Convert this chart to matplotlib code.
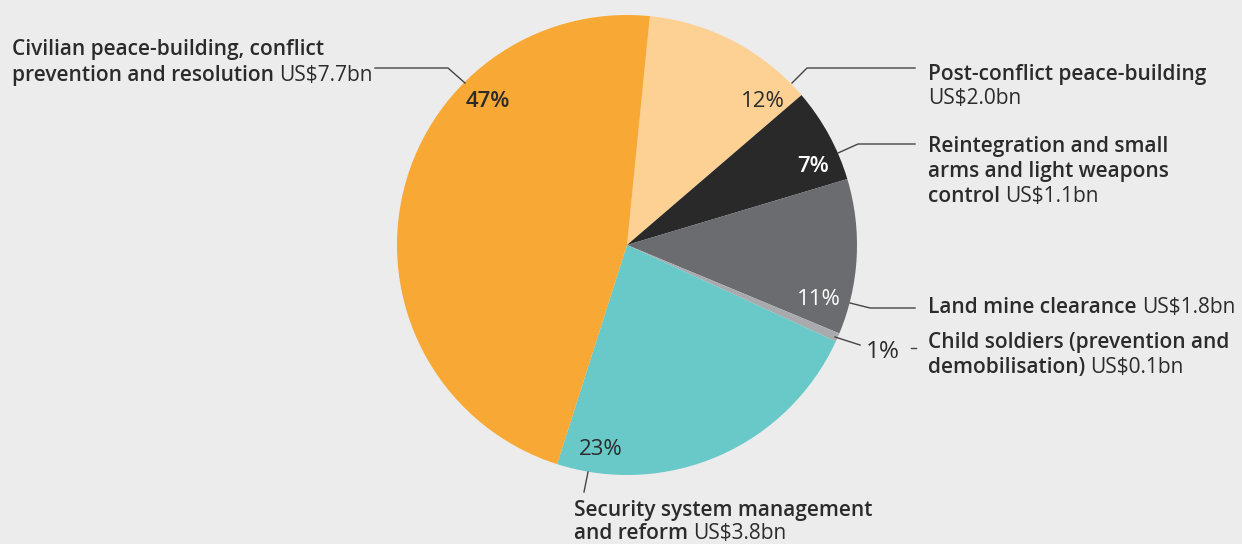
import matplotlib.pyplot as plt

# data, clockwise from the top
categories = ['Post-conflict peace-building',
              'Reintegration and small arms and light weapons control',
              'Land mine clearance',
              'Child soldiers (prevention and demobilisation)',
              'Security system management and reform',
              'Civilian peace-building, conflict prevention and resolution']
values = [2.0, 1.1, 1.8, 0.1, 3.8, 7.7]  # US$ bn
colors = ['#fdd093', '#292929', '#6b6c70', '#a9aaad', '#68c9c8', '#f8a834']

bg = '#ececec'
ink = '#2b2b2b'
plt.rcParams['font.family'] = ['Open Sans', 'DejaVu Sans']

fig = plt.figure(figsize=(12.42, 5.44), dpi=100, facecolor=bg)
ax = fig.add_axes([0, 0, 1, 1])
ax.set_facecolor(bg)

H = 544
ax.pie(values, colors=colors, startangle=84.3, counterclock=False,
       center=(627, H - 245), radius=230, wedgeprops=dict(linewidth=0))
ax.set_xlim(0, 1242)
ax.set_ylim(0, H)
ax.set_aspect('auto')
ax.axis('off')

renderer = fig.canvas.get_renderer()


def rich(x, y, parts, size=15):
    # draw a line made of bold + regular pieces, y in image pixels (baseline)
    for txt, weight in parts:
        t = ax.text(x, H - y, txt, fontsize=size, fontweight=weight,
                    color=ink, ha='left', va='baseline')
        x += t.get_window_extent(renderer).width


def leader(xs, ys, c='#444444'):
    ax.plot(xs, [H - v for v in ys], color=c, lw=1)


total = sum(values)
pct = [f'{round(v / total * 100)}%' for v in values]

# percent labels
pct_pos = [(741, 107, ink, 'normal', 16), (797, 172, 'white', 'semibold', 16),
           (797, 305, 'white', 'normal', 16), (866, 358, ink, 'normal', 17.5),
           (579, 455, ink, 'normal', 16), (466, 107, ink, 'semibold', 16)]
for p, (x, y, c, w, s) in zip(pct, pct_pos):
    ax.text(x, H - y, p, fontsize=s, color=c, fontweight=w, ha='left', va='baseline')

# category labels
rich(12, 55, [('Civilian peace-building, conflict', 'semibold')])
rich(12, 81, [('prevention and resolution ', 'semibold'), ('US$7.7bn', 'normal')])
leader([375, 448, 465], [68, 68, 83])

rich(928, 80, [('Post-conflict peace-building', 'semibold')])
rich(928, 104, [('US$2.0bn', 'normal')])
leader([792, 807, 915], [83, 68, 68])

rich(928, 152, [('Reintegration and small', 'semibold')])
rich(928, 177, [('arms and light weapons', 'semibold')])
rich(928, 202, [('control ', 'semibold'), ('US$1.1bn', 'normal')])
leader([838, 858, 915], [153, 144, 144])

rich(928, 313, [('Land mine clearance ', 'semibold'), ('US$1.8bn', 'normal')])
leader([850, 870, 915], [303, 308, 308])

rich(928, 348, [('Child soldiers (prevention and', 'semibold')])
rich(928, 373, [('demobilisation) ', 'semibold'), ('US$0.1bn', 'normal')])
leader([835, 860], [337, 345])
leader([911, 916], [348, 348])

rich(574, 516, [('Security system management', 'semibold')])
rich(574, 539, [('and reform ', 'semibold'), ('US$3.8bn', 'normal')])
leader([588, 584], [472, 492])

fig.savefig('out.png', dpi=100, facecolor=bg)
